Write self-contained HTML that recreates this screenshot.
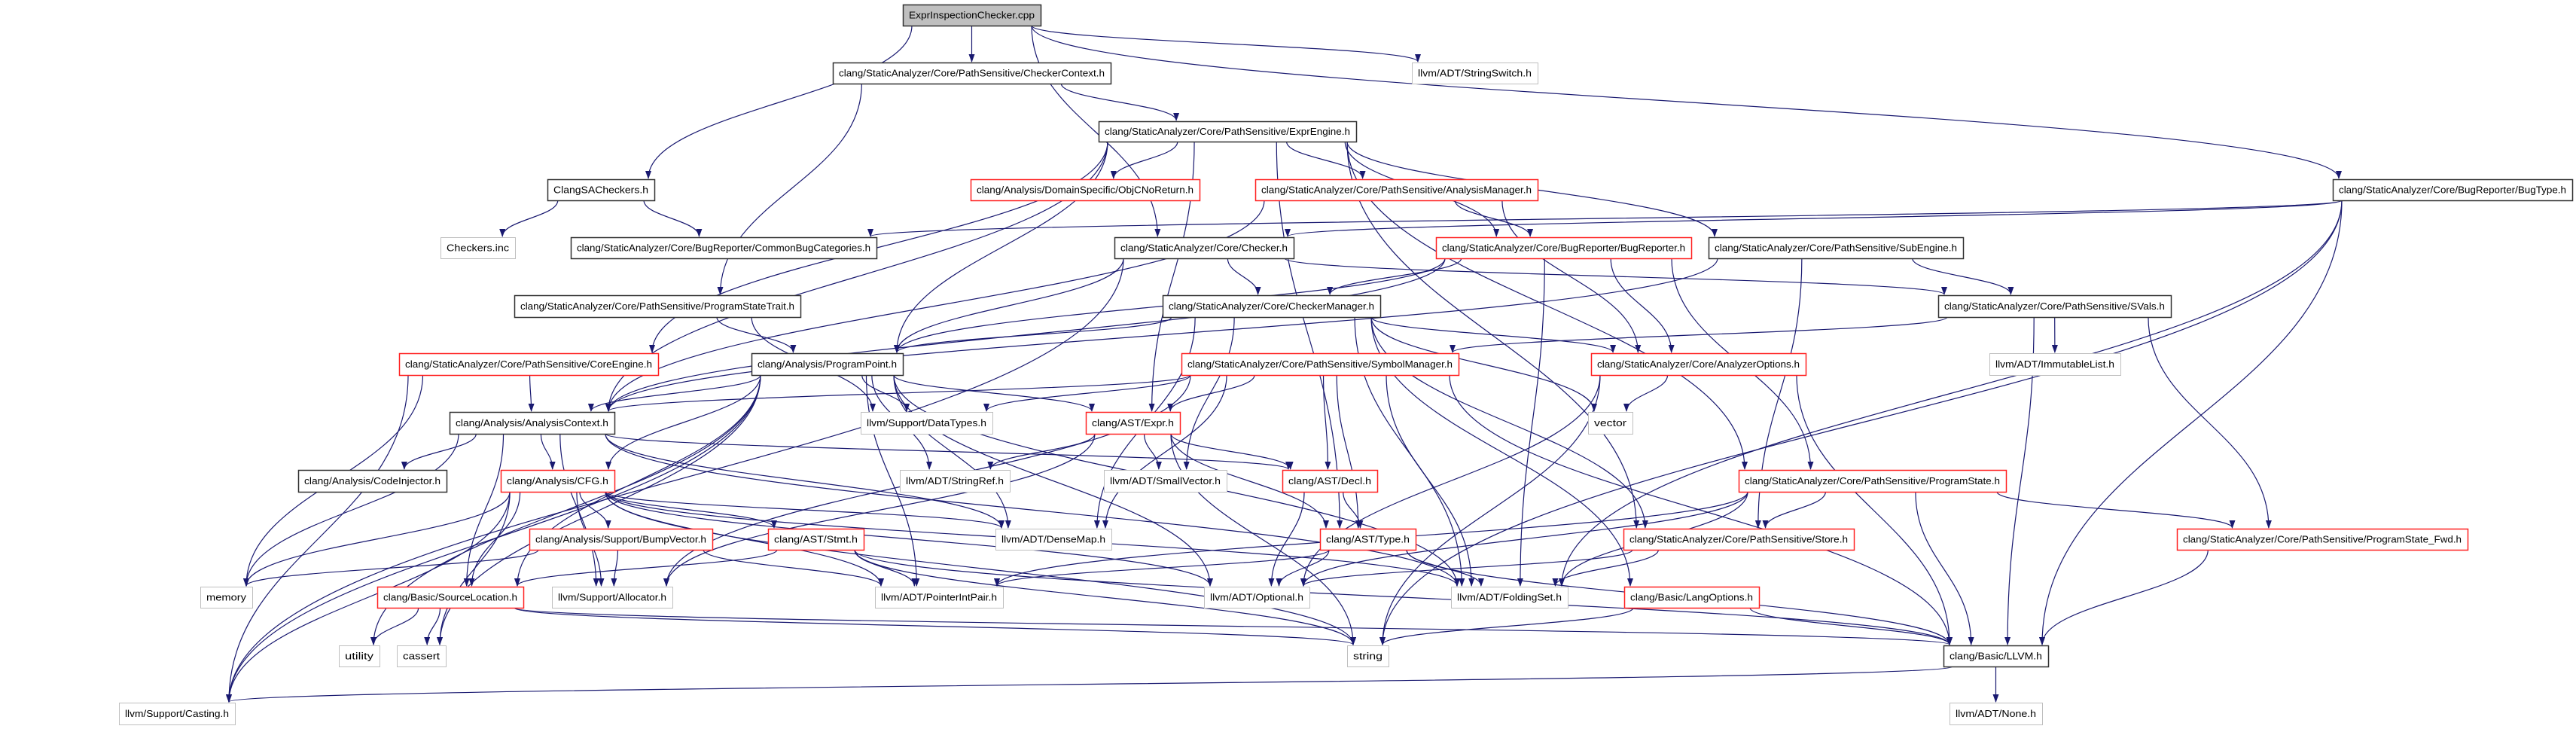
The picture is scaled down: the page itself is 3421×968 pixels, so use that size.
<!DOCTYPE html>
<html><head><meta charset="utf-8"><style>
html,body{margin:0;padding:0;background:#fff;width:3421px;height:968px;overflow:hidden}
svg{display:block}
text{font-family:"Liberation Sans",sans-serif;font-size:13px;fill:#000}
</style></head><body>
<svg id="g" xmlns="http://www.w3.org/2000/svg" width="3421" height="968" viewBox="0 0 3421 968">
<defs><marker id="ah" markerUnits="userSpaceOnUse" markerWidth="11" markerHeight="8" refX="10" refY="4" orient="auto"><path d="M0,0 L11,4 L0,8 z" fill="#191970"/></marker></defs>
<g id="edges" fill="none" stroke="#191970" stroke-width="1.2"></g>
<g id="nodes"></g>
</svg>
<script>
var N={
EIC:[1199,1382,6,34,"ExprInspectionChecker.cpp","f"],
CC:[1106,1475,83,111,"clang/StaticAnalyzer/Core/PathSensitive/CheckerContext.h","b"],
SS:[1875,2042,83,111,"llvm/ADT/StringSwitch.h","g"],
EE:[1459,1801,161,188,"clang/StaticAnalyzer/Core/PathSensitive/ExprEngine.h","b"],
CSA:[727,869,238,266,"ClangSACheckers.h","b"],
OBJ:[1289,1593,238,266,"clang/Analysis/DomainSpecific/ObjCNoReturn.h","r"],
AM:[1667,2042,238,266,"clang/StaticAnalyzer/Core/PathSensitive/AnalysisManager.h","r"],
BT:[3098,3416,238,266,"clang/StaticAnalyzer/Core/BugReporter/BugType.h","b"],
CI:[585,684,315,343,"Checkers.inc","g"],
CBC:[758,1164,315,343,"clang/StaticAnalyzer/Core/BugReporter/CommonBugCategories.h","b"],
CK:[1480,1718,315,343,"clang/StaticAnalyzer/Core/Checker.h","b"],
BR:[1907,2246,315,343,"clang/StaticAnalyzer/Core/BugReporter/BugReporter.h","r"],
SE:[2269,2607,315,343,"clang/StaticAnalyzer/Core/PathSensitive/SubEngine.h","b"],
PST:[683,1063,392,421,"clang/StaticAnalyzer/Core/PathSensitive/ProgramStateTrait.h","b"],
CM:[1544,1833,392,421,"clang/StaticAnalyzer/Core/CheckerManager.h","b"],
SV:[2574,2883,392,421,"clang/StaticAnalyzer/Core/PathSensitive/SVals.h","b"],
CE:[530,874,469,498,"clang/StaticAnalyzer/Core/PathSensitive/CoreEngine.h","r"],
PP:[998,1199,469,498,"clang/Analysis/ProgramPoint.h","b"],
SM:[1569,1937,469,498,"clang/StaticAnalyzer/Core/PathSensitive/SymbolManager.h","r"],
AO:[2113,2398,469,498,"clang/StaticAnalyzer/Core/AnalyzerOptions.h","r"],
IL:[2642,2816,469,498,"llvm/ADT/ImmutableList.h","g"],
AC:[597,816,547,576,"clang/Analysis/AnalysisContext.h","b"],
DT:[1143,1318,547,576,"llvm/Support/DataTypes.h","g"],
EX:[1442,1567,547,576,"clang/AST/Expr.h","r"],
VE:[2109,2168,547,576,"vector","g"],
CINJ:[396,593,624,653,"clang/Analysis/CodeInjector.h","b"],
CFG:[665,816,624,653,"clang/Analysis/CFG.h","r"],
SR:[1195,1341,624,653,"llvm/ADT/StringRef.h","g"],
SMV:[1466,1629,624,653,"llvm/ADT/SmallVector.h","g"],
DE:[1703,1829,624,653,"clang/AST/Decl.h","r"],
PS:[2309,2664,624,653,"clang/StaticAnalyzer/Core/PathSensitive/ProgramState.h","r"],
BV:[703,946,702,730,"clang/Analysis/Support/BumpVector.h","r"],
ST:[1020,1147,702,730,"clang/AST/Stmt.h","r"],
DM:[1322,1476,702,730,"llvm/ADT/DenseMap.h","g"],
TY:[1753,1880,702,730,"clang/AST/Type.h","r"],
STO:[2156,2462,702,730,"clang/StaticAnalyzer/Core/PathSensitive/Store.h","r"],
PSF:[2891,3277,702,730,"clang/StaticAnalyzer/Core/PathSensitive/ProgramState_Fwd.h","r"],
ME:[266,335,779,807,"memory","g"],
SL:[501,695,779,807,"clang/Basic/SourceLocation.h","r"],
AL:[733,893,779,807,"llvm/Support/Allocator.h","g"],
PIP:[1162,1332,779,807,"llvm/ADT/PointerIntPair.h","g"],
OPT:[1599,1739,779,807,"llvm/ADT/Optional.h","g"],
FS:[1927,2082,779,807,"llvm/ADT/FoldingSet.h","g"],
LO:[2157,2336,779,807,"clang/Basic/LangOptions.h","r"],
UT:[450,504,857,885,"utility","g"],
CA:[527,592,857,885,"cassert","g"],
STR:[1789,1844,857,885,"string","g"],
LL:[2581,2720,857,885,"clang/Basic/LLVM.h","b"],
CAST:[158,312,933,962,"llvm/Support/Casting.h","g"],
NONE:[2589,2712,933,962,"llvm/ADT/None.h","g"]
};
var E="EIC>CSA EIC>CC EIC>SS EIC>BT EIC>CK CC>EE CC>PST EE>OBJ EE>AM EE>BR EE>SE EE>EX EE>CE EE>PP EE>AC EE>PS EE>TY EE>STO "+
"AM>BR AM>AO AM>AC CSA>CI CSA>CBC BT>CBC BT>CK BT>LL BT>FS BT>STR CK>PP CK>CM CK>SV CK>CAST "+
"BR>CM BR>AO BR>PP BR>AC BR>PS BR>FS SE>SV SE>STO SE>AC CM>PP CM>AO CM>VE CM>LO CM>STO CM>SMV CM>FS CM>DM "+
"SV>SM SV>IL SV>PSF SV>LL PST>PP PST>DT CE>AC CE>ME CE>CAST PP>AC PP>CFG PP>DT PP>EX PP>SR PP>DM PP>PIP PP>OPT PP>FS PP>CAST PP>SL PP>UT PP>CA "+
"SM>EX SM>DE SM>DT SM>AC SM>FS SM>LL SM>AL SM>DM SM>TY AO>VE AO>STR AO>OPT AO>LL "+
"AC>CINJ AC>CFG AC>ME AC>AL AC>SL AC>DE AC>DM AC>FS EX>SR EX>SMV EX>DE EX>TY EX>AL EX>STR "+
"CFG>BV CFG>ST CFG>ME CFG>SL CFG>AL CFG>DM CFG>PIP CFG>OPT CFG>CAST CFG>CA CFG>FS CFG>STR "+
"DE>TY DE>OPT PS>STO PS>PSF PS>LL PS>PIP PS>FS PS>OPT BV>ME BV>AL BV>PIP ST>SL ST>PIP ST>STR ST>LL "+
"TY>OPT TY>FS TY>PIP TY>LL STO>OPT STO>FS PSF>LL LO>LL LO>STR SL>UT SL>CA SL>STR SL>LL LL>CAST LL>NONE";
var ns="http://www.w3.org/2000/svg",eg=document.getElementById("edges"),ng=document.getElementById("nodes");
function cl(v,a,b){return Math.max(a,Math.min(b,v));}
E.split(" ").forEach(function(e){var p=e.split(">"),s=N[p[0]],t=N[p[1]];if(!s||!t)return;
var scx=(s[0]+s[1])/2,tcx=(t[0]+t[1])/2;
var sx=cl(scx+(tcx-scx)*0.35,s[0]+12,s[1]-12),sy=s[3];
var tx=cl(tcx+(scx-tcx)*0.2,t[0]+8,t[1]-8),ty=t[2]-1;
var d=(ty-sy)*0.45;
var pa=document.createElementNS(ns,"path");
pa.setAttribute("d","M"+sx+","+sy+" C"+sx+","+(sy+d)+" "+tx+","+(ty-d)+" "+tx+","+ty);
pa.setAttribute("marker-end","url(#ah)");eg.appendChild(pa);});
for(var k in N){var n=N[k],r=document.createElementNS(ns,"rect");
r.setAttribute("x",n[0]+0.5);r.setAttribute("y",n[2]+0.5);r.setAttribute("width",n[1]-n[0]);r.setAttribute("height",n[3]-n[2]);
r.setAttribute("fill",n[5]=="f"?"#bfbfbf":"#fff");
r.setAttribute("stroke",n[5]=="r"?"#ff2020":(n[5]=="g"?"#bfbfbf":"#303030"));
r.setAttribute("stroke-width",n[5]=="g"?"1":"1.5");ng.appendChild(r);
var t=document.createElementNS(ns,"text");t.setAttribute("x",(n[0]+n[1])/2);t.setAttribute("y",(n[2]+n[3])/2+4.5);
t.setAttribute("text-anchor","middle");t.setAttribute("textLength",n[1]-n[0]-16);t.setAttribute("lengthAdjust","spacingAndGlyphs");
t.textContent=n[4];ng.appendChild(t);}
</script>
</body></html>
